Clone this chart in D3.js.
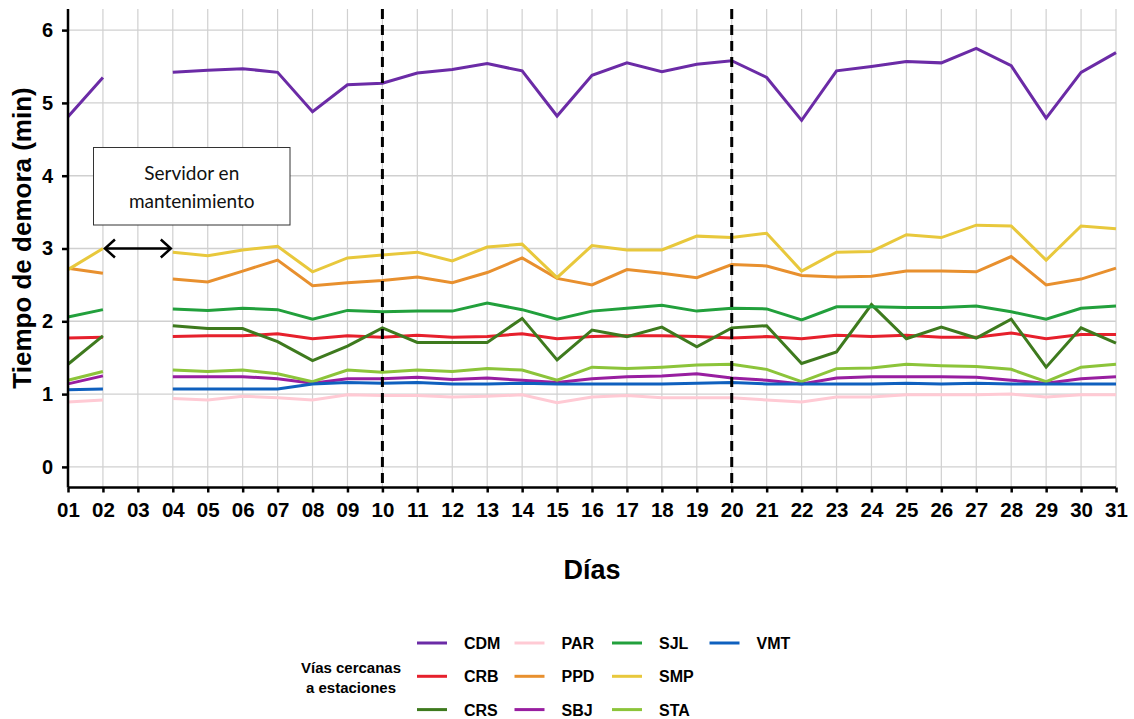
<!DOCTYPE html>
<html><head><meta charset="utf-8">
<script src="https://cdn.jsdelivr.net/npm/d3@7/dist/d3.min.js"></script>
<style>body{margin:0;background:#fff}svg{display:block}</style>
</head><body>
<svg id="c" width="1134" height="719"></svg>
<script>
const days = ["01","02","03","04","05","06","07","08","09","10","11","12","13","14","15","16","17","18","19","20","21","22","23","24","25","26","27","28","29","30","31"];
const yTicks = [0,1,2,3,4,5,6];
const seriesNames = ["CDM","CRB","CRS","PAR","PPD","SBJ","SJL","SMP","STA","VMT"];
const seriesColors = ["#6b2ba6","#e6202c","#3e7a1e","#ffcad4","#e8902e","#981ea0","#22a03c","#e8c83c","#8cc43a","#0f60be"];
const N = null;
const CDM = [4.81,5.35,N,5.42,5.45,5.47,5.42,4.88,5.25,5.27,5.41,5.46,5.54,5.44,4.82,5.38,5.55,5.43,5.53,5.58,5.35,4.76,5.44,5.50,5.57,5.55,5.75,5.51,4.79,5.42,5.69];
const CRB = [1.77,1.78,N,1.79,1.80,1.80,1.83,1.76,1.80,1.78,1.81,1.78,1.79,1.83,1.76,1.79,1.80,1.80,1.79,1.77,1.79,1.76,1.81,1.79,1.81,1.78,1.78,1.84,1.76,1.82,1.82];
const CRS = [1.41,1.80,N,1.94,1.90,1.90,1.72,1.46,1.66,1.91,1.71,1.71,1.71,2.04,1.47,1.88,1.79,1.92,1.65,1.91,1.94,1.42,1.58,2.23,1.76,1.92,1.77,2.03,1.37,1.91,1.70];
const PAR = [0.89,0.92,N,0.94,0.92,0.97,0.95,0.92,0.99,0.98,0.98,0.96,0.97,0.99,0.88,0.96,0.98,0.95,0.95,0.95,0.92,0.89,0.96,0.96,0.99,0.99,0.99,1.00,0.96,0.99,0.99];
const PPD = [2.73,2.66,N,2.58,2.54,2.69,2.84,2.49,2.53,2.56,2.61,2.53,2.67,2.87,2.59,2.50,2.71,2.66,2.60,2.78,2.76,2.63,2.61,2.62,2.69,2.69,2.68,2.89,2.50,2.58,2.73];
const SBJ = [1.14,1.25,N,1.24,1.24,1.24,1.21,1.15,1.21,1.21,1.23,1.20,1.22,1.19,1.16,1.21,1.24,1.25,1.28,1.22,1.19,1.14,1.22,1.24,1.24,1.24,1.23,1.19,1.15,1.21,1.24];
const SJL = [2.06,2.16,N,2.17,2.15,2.18,2.16,2.03,2.15,2.13,2.14,2.14,2.25,2.16,2.03,2.14,2.18,2.22,2.14,2.18,2.17,2.02,2.20,2.20,2.19,2.19,2.21,2.13,2.03,2.18,2.21];
const SMP = [2.71,3.00,N,2.95,2.90,2.98,3.03,2.68,2.87,2.91,2.95,2.83,3.02,3.06,2.60,3.04,2.98,2.98,3.17,3.15,3.21,2.69,2.95,2.96,3.19,3.15,3.32,3.31,2.84,3.31,3.27];
const STA = [1.19,1.31,N,1.33,1.31,1.33,1.28,1.17,1.33,1.30,1.33,1.31,1.35,1.33,1.19,1.37,1.35,1.37,1.40,1.41,1.34,1.17,1.35,1.36,1.41,1.39,1.38,1.34,1.17,1.37,1.41];
const VMT = [1.06,1.07,N,1.07,1.07,1.07,1.07,1.14,1.16,1.15,1.16,1.14,1.14,1.15,1.14,1.14,1.14,1.14,1.15,1.16,1.14,1.14,1.14,1.14,1.15,1.14,1.15,1.14,1.14,1.14,1.14];
const seriesValues = [CDM,CRB,CRS,PAR,PPD,SBJ,SJL,SMP,STA,VMT];
const markerDays = ["10","20"];
const legendTitle = ["Vías cercanas","a estaciones"];
const noteLines = ["Servidor en","mantenimiento"];
const gapFrom = "02", gapTo = "04", noteY = 3;

const svg = d3.select("#c");
const FONT = "Liberation Sans, Arial, sans-serif";
const L = 68, R = 1116, T = 9, B = 487.5;
const x = d3.scalePoint().domain(days).range([L, R]);
const y = d3.scaleLinear().domain([-0.283, 6.29]).range([B, T]);

// gridlines
const g = svg.append("g");
g.selectAll(".vg").data(days).join("line")
  .attr("x1", d => x(d)).attr("x2", d => x(d)).attr("y1", T).attr("y2", B)
  .attr("stroke", "#d0d0d0").attr("stroke-width", 1.2);
g.selectAll(".hg").data(yTicks).join("line")
  .attr("x1", L).attr("x2", R).attr("y1", d => y(d)).attr("y2", d => y(d))
  .attr("stroke", "#d0d0d0").attr("stroke-width", 1.4);

// lines
const line = d3.line().defined(d => d.v !== null).x(d => x(d.day)).y(d => y(d.v));
seriesNames.forEach((name, i) => {
  const data = days.map((day, j) => ({day, v: seriesValues[i][j]}));
  svg.append("path").datum(data).attr("d", line)
    .attr("fill", "none").attr("stroke", seriesColors[i]).attr("stroke-width", 3)
    .attr("stroke-linejoin", "miter");
});

// dashed markers
svg.selectAll(".mk").data(markerDays).join("line")
  .attr("x1", d => x(d)).attr("x2", d => x(d)).attr("y1", T).attr("y2", B)
  .attr("stroke", "#000").attr("stroke-width", 3).attr("stroke-dasharray", "10,6");

// axes
const ya = svg.append("g").attr("transform", `translate(${L},0)`)
  .call(d3.axisLeft(y).tickValues(yTicks).tickSize(6).tickPadding(9).tickFormat(d3.format("d")));
ya.select(".domain").attr("d", `M0,${T}V${B}`).attr("stroke-width", 2.5);
ya.selectAll(".tick line").attr("stroke-width", 2.5);
ya.selectAll("text").attr("font-family", FONT).attr("font-weight", "bold").attr("font-size", 20).attr("fill", "#000");

const xa = svg.append("g").attr("transform", `translate(0,${B})`)
  .call(d3.axisBottom(x).tickSize(5).tickPadding(10));
xa.select(".domain").attr("d", `M${L},0H${R}`).attr("stroke-width", 2.5);
xa.selectAll(".tick line").attr("stroke-width", 2.5);
xa.selectAll("text").attr("font-family", FONT).attr("font-weight", "bold").attr("font-size", 20.5).attr("fill", "#000");

// axis titles
svg.append("text").attr("x", 592).attr("y", 579).attr("text-anchor", "middle")
  .attr("font-family", FONT).attr("font-weight", "bold").attr("font-size", 27).text("Días");
svg.append("text").attr("transform", `translate(31,238) rotate(-90)`).attr("text-anchor", "middle")
  .attr("font-family", FONT).attr("font-weight", "bold").attr("font-size", 26).text("Tiempo de demora (min)");

// annotation box
const bx = 93.5, bw = 196.5, by = 147.5, bh = 77.5;
svg.append("rect").attr("x", bx).attr("y", by).attr("width", bw).attr("height", bh)
  .attr("fill", "#fff").attr("stroke", "#333").attr("stroke-width", 1);
svg.selectAll(".nt").data(noteLines).join("text")
  .attr("x", bx + bw / 2).attr("y", (d, i) => by + 32 + i * 28).attr("text-anchor", "middle")
  .attr("font-family", "Lato, 'Open Sans', sans-serif").attr("font-size", 19).attr("fill", "#111").text(d => d);

// double arrow
const ax1 = x(gapFrom) + 2, ax2 = x(gapTo) - 2, ay = y(noteY);
svg.append("line").attr("x1", ax1).attr("x2", ax2).attr("y1", ay).attr("y2", ay).attr("stroke", "#000").attr("stroke-width", 2.5);
svg.append("path").attr("d", `M${ax1 + 10},${ay - 9}L${ax1},${ay}L${ax1 + 10},${ay + 9}`).attr("fill", "none").attr("stroke", "#000").attr("stroke-width", 2.5);
svg.append("path").attr("d", `M${ax2 - 10},${ay - 9}L${ax2},${ay}L${ax2 - 10},${ay + 9}`).attr("fill", "none").attr("stroke", "#000").attr("stroke-width", 2.5);

// legend
const lg = svg.append("g");
lg.selectAll(".lt").data(legendTitle).join("text")
  .attr("x", 351).attr("y", (d, i) => 673 + i * 20).attr("text-anchor", "middle")
  .attr("font-family", FONT).attr("font-weight", "bold").attr("font-size", 15).text(d => d);
seriesNames.forEach((name, i) => {
  const col = Math.floor(i / 3), row = i % 3;
  const lx = 417 + col * 97.5, ly = 643 + row * 33.3;
  lg.append("line").attr("x1", lx).attr("x2", lx + 30).attr("y1", ly).attr("y2", ly)
    .attr("stroke", seriesColors[i]).attr("stroke-width", 3);
  lg.append("text").attr("x", lx + 47).attr("y", ly + 6)
    .attr("font-family", FONT).attr("font-weight", "bold").attr("font-size", 16).text(name);
});
</script>
</body></html>
